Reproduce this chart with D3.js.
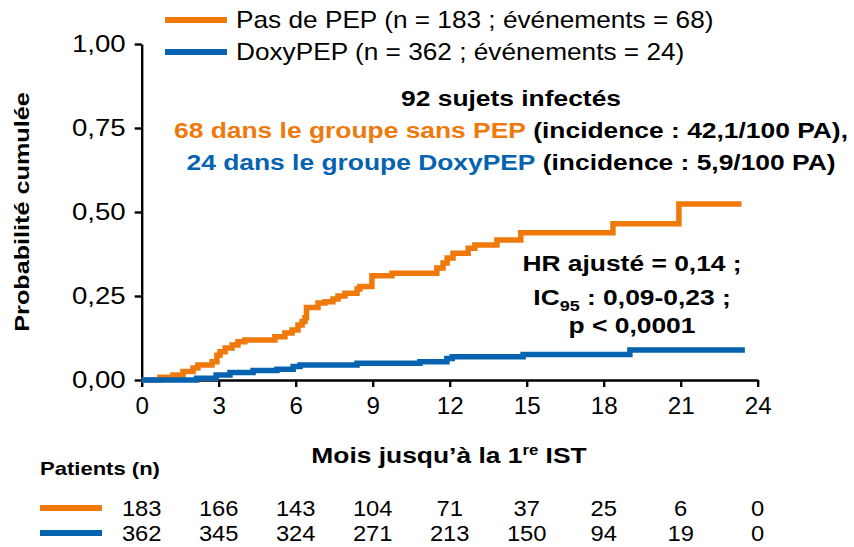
<!DOCTYPE html>
<html lang="fr">
<head>
<meta charset="utf-8">
<script src="https://cdn.jsdelivr.net/npm/d3@7"></script>
<style>
  html, body { margin: 0; padding: 0; background: #fff; }
  svg { display: block; font-family: "Liberation Sans", Arial, sans-serif; }
</style>
</head>
<body>
<svg id="chart" width="854" height="547"></svg>
<script>
// Kaplan–Meier cumulative incidence of first STI, by arm: [month, cumulative probability]
const noPepSteps = [
  [0, 0], [0.71, 0.008], [1.22, 0.015], [1.61, 0.025], [2.0, 0.036], [2.19, 0.045],
  [2.74, 0.054], [2.93, 0.074], [3.05, 0.084], [3.25, 0.095], [3.52, 0.104],
  [3.75, 0.114], [4.02, 0.119], [5.19, 0.129], [5.58, 0.140], [5.86, 0.149],
  [6.09, 0.164], [6.25, 0.174], [6.36, 0.185], [6.42, 0.216], [6.87, 0.229],
  [7.14, 0.233], [7.45, 0.241], [7.65, 0.250], [7.92, 0.258], [8.39, 0.271],
  [8.50, 0.278], [8.97, 0.310], [9.75, 0.318], [11.5, 0.333], [11.74, 0.348],
  [11.9, 0.363], [12.13, 0.377], [12.72, 0.392], [12.98, 0.402], [13.84, 0.417],
  [14.77, 0.438], [18.36, 0.465], [20.93, 0.524], [23.37, 0.524]
];
const doxyPepSteps = [
  [0, 0], [2.14, 0.005], [2.9, 0.015], [3.44, 0.022], [4.34, 0.028], [5.27, 0.032],
  [5.9, 0.040], [6.17, 0.045], [8.39, 0.050], [10.84, 0.054], [11.89, 0.064],
  [12.1, 0.069], [14.86, 0.076], [19.02, 0.089], [23.5, 0.089]
];

// Axis ticks
const monthTicks = [0, 3, 6, 9, 12, 15, 18, 21, 24];
const probTicks = [0, 0.25, 0.5, 0.75, 1];

// Number at risk at each month tick
const atRiskNoPep = [183, 166, 143, 104, 71, 37, 25, 6, 0];
const atRiskDoxy = [362, 345, 324, 271, 213, 150, 94, 19, 0];

const ORANGE = "#EF790B";
const BLUE = "#0563B0";

const svg = d3.select("#chart");
const x = d3.scaleLinear().domain([0, 24]).range([141.7, 757.7]);
const y = d3.scaleLinear().domain([0, 1]).range([380, 44]);

const fr = d3.formatLocale({ decimal: ",", thousands: " ", grouping: [3], currency: ["", " €"] });
const fmt2 = fr.format(".2f");

// Widen glyphs horizontally around each text's anchor point
function stretch(sel, sx) {
  sel.each(function () {
    const t = d3.select(this);
    const tx = +t.attr("x") || 0, ty = +t.attr("y") || 0;
    t.attr("x", 0).attr("y", 0).attr("transform", `translate(${tx},${ty}) scale(${sx},1)`);
  });
}

// Y axis
const yAxis = svg.append("g")
  .attr("transform", `translate(${x(0)},0)`)
  .call(d3.axisLeft(y).tickValues(probTicks).tickFormat(fmt2).tickSize(7).tickSizeOuter(0).tickPadding(9));
yAxis.select(".domain").attr("stroke", "#000").attr("stroke-width", 2.4);
yAxis.selectAll(".tick line").attr("stroke", "#000").attr("stroke-width", 2.4);
yAxis.selectAll(".tick text").attr("font-size", 23).attr("fill", "#000")
  .attr("font-family", "Liberation Sans, Arial, sans-serif").call(stretch, 1.2);

// X axis
const xAxis = svg.append("g")
  .attr("transform", `translate(0,${y(0)})`)
  .call(d3.axisBottom(x).tickValues(monthTicks).tickSize(7).tickSizeOuter(0).tickPadding(11));
xAxis.select(".domain").attr("stroke", "#000").attr("stroke-width", 2.4);
xAxis.selectAll(".tick line").attr("stroke", "#000").attr("stroke-width", 2.4);
xAxis.selectAll(".tick text").attr("font-size", 23).attr("fill", "#000")
  .attr("font-family", "Liberation Sans, Arial, sans-serif").call(stretch, 1.05);

// Curves
const step = d3.line().x(d => x(d[0])).y(d => y(d[1])).curve(d3.curveStepAfter);
svg.append("path").datum(noPepSteps).attr("d", step)
  .attr("fill", "none").attr("stroke", ORANGE).attr("stroke-width", 5.5);
svg.append("path").datum(doxyPepSteps).attr("d", step)
  .attr("fill", "none").attr("stroke", BLUE).attr("stroke-width", 5.5);

// Legend
const legend = [
  { label: "Pas de PEP (n = 183 ; événements = 68)", color: ORANGE, cy: 20 },
  { label: "DoxyPEP (n = 362 ; événements = 24)", color: BLUE, cy: 52 }
];
legend.forEach(l => {
  svg.append("line").attr("x1", 165).attr("x2", 227).attr("y1", l.cy).attr("y2", l.cy)
    .attr("stroke", l.color).attr("stroke-width", 6);
  svg.append("text").attr("x", 236).attr("y", l.cy + 8)
    .attr("font-size", 23).attr("fill", "#000").text(l.label).call(stretch, 1.14);
});

// Axis titles
svg.append("text")
  .attr("transform", `translate(29,${(y(0) + y(1)) / 2}) rotate(-90) scale(1.2,1)`)
  .attr("text-anchor", "middle").attr("font-weight", "bold").attr("font-size", 21)
  .text("Probabilité cumulée");

const xt = svg.append("text").attr("x", 449).attr("y", 463)
  .attr("text-anchor", "middle").attr("font-weight", "bold").attr("font-size", 22);
xt.append("tspan").text("Mois jusqu’à la 1");
xt.append("tspan").attr("dy", -8).attr("font-size", 14).text("re");
xt.append("tspan").attr("dy", 8).text(" IST");
xt.call(stretch, 1.2);

// Summary annotation
const ann = svg.append("g").attr("font-weight", "bold").attr("font-size", 22).attr("text-anchor", "middle");
ann.append("text").attr("x", 511).attr("y", 106).text("92 sujets infectés");
const a2 = ann.append("text").attr("x", 511).attr("y", 138);
a2.append("tspan").attr("fill", ORANGE).text("68 dans le groupe sans PEP");
a2.append("tspan").attr("fill", "#000").text(" (incidence : 42,1/100 PA),");
const a3 = ann.append("text").attr("x", 511).attr("y", 170);
a3.append("tspan").attr("fill", BLUE).text("24 dans le groupe DoxyPEP");
a3.append("tspan").attr("fill", "#000").text(" (incidence : 5,9/100 PA)");
ann.selectAll("text").call(stretch, 1.2);

// Hazard ratio block
const hr = svg.append("g").attr("font-weight", "bold").attr("font-size", 22).attr("text-anchor", "middle");
hr.append("text").attr("x", 632).attr("y", 271).text("HR ajusté = 0,14 ;");
const ic = hr.append("text").attr("x", 632).attr("y", 305);
ic.append("tspan").text("IC");
ic.append("tspan").attr("dy", 6).attr("font-size", 15).text("95");
ic.append("tspan").attr("dy", -6).text(" : 0,09-0,23 ;");
hr.append("text").attr("x", 632).attr("y", 333).text("p < 0,0001");
hr.selectAll("text").call(stretch, 1.2);

// Number-at-risk table
svg.append("text").attr("x", 40).attr("y", 475).attr("font-weight", "bold").attr("font-size", 19)
  .text("Patients (n)").call(stretch, 1.16);
const riskRows = [
  { values: atRiskNoPep, color: ORANGE, cy: 508 },
  { values: atRiskDoxy, color: BLUE, cy: 533 }
];
riskRows.forEach(r => {
  svg.append("line").attr("x1", 40).attr("x2", 102).attr("y1", r.cy).attr("y2", r.cy)
    .attr("stroke", r.color).attr("stroke-width", 6);
  svg.append("g").selectAll("text").data(r.values).join("text")
    .attr("x", (d, i) => x(monthTicks[i])).attr("y", r.cy + 8)
    .attr("text-anchor", "middle").attr("font-size", 22).text(d => d)
    .call(stretch, 1.08);
});
</script>
</body>
</html>
